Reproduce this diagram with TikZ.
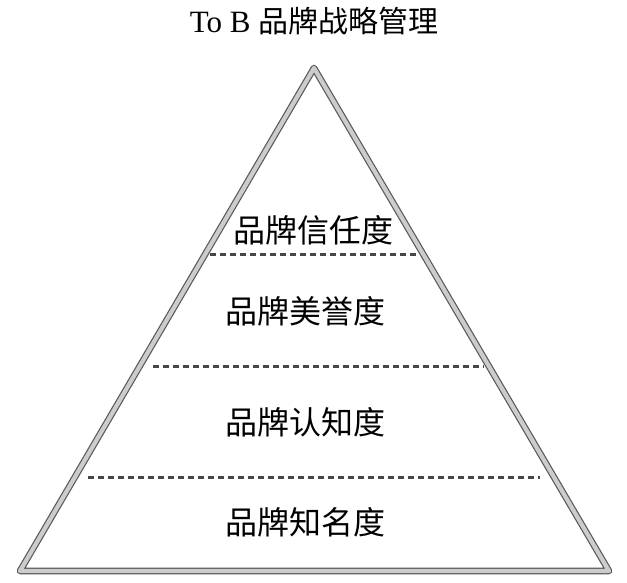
\documentclass[tikz,border=0pt]{standalone}
\usepackage{fontspec}
\setmainfont{Liberation Serif}
\newfontfamily\cjk{Noto Sans CJK SC}
\begin{document}
\begin{tikzpicture}[x=1pt,y=-1pt,
  tri/.style={draw=gray!70!black,line width=1.2pt,double=gray!40,double distance=4.2pt,line join=round},
  sep/.style={draw=gray!55!black,line width=3pt,dash pattern=on 5.5pt off 4.5pt},
  lbl/.style={font=\cjk\fontsize{32}{32}\selectfont,inner sep=0pt,anchor=center},
  ttl/.style={font=\fontsize{31}{31}\selectfont,inner sep=0pt,anchor=center}]
\useasboundingbox[fill=white] (0,0) rectangle (627,582);
\node[ttl] (title) at (314,21) {To B {\cjk\fontsize{30}{30}\selectfont 品牌战略管理}};
\coordinate (apex) at (314,68);
\coordinate (bl) at (20,571);
\coordinate (br) at (609,571);
\draw[tri] (apex) -- (bl) -- (br) -- cycle;
\coordinate (a1) at (210,254); \coordinate (b1) at (416,254);
\coordinate (a2) at (153,366); \coordinate (b2) at (484,366);
\coordinate (a3) at (88,477);  \coordinate (b3) at (540,477);
\draw[sep] (a1) -- (b1);
\draw[sep] (a2) -- (b2);
\draw[sep] (a3) -- (b3);
\node[lbl] (l1) at (313,230) {品牌信任度};
\node[lbl] (l2) at (305,311) {品牌美誉度};
\node[lbl] (l3) at (305,422) {品牌认知度};
\node[lbl] (l4) at (305,522) {品牌知名度};
\end{tikzpicture}
\end{document}
